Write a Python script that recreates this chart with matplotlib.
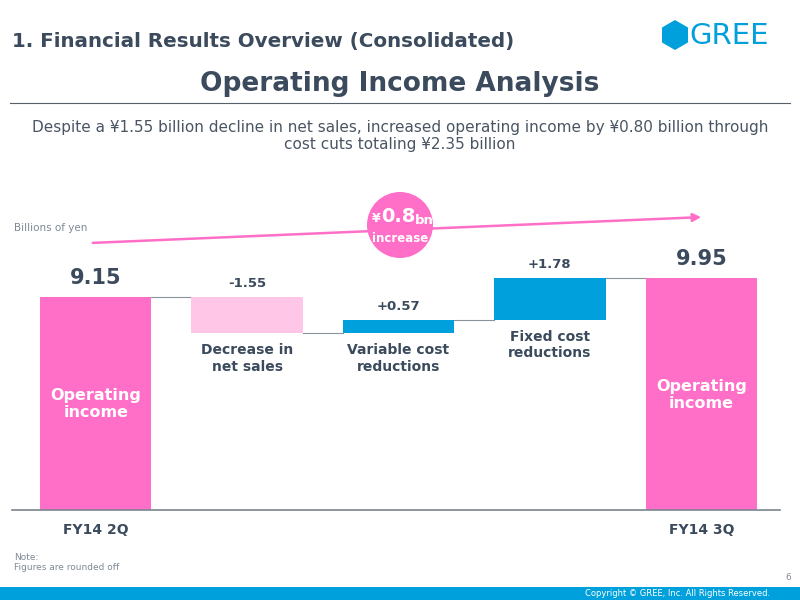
import matplotlib.pyplot as plt
import numpy as np
from matplotlib.patches import Circle, RegularPolygon

# waterfall data (billions of yen)
STEPS = ["FY14 2Q", "Decrease in\nnet sales", "Variable cost\nreductions", "Fixed cost\nreductions", "FY14 3Q"]
START = 9.15
CHANGES = [-1.55, 0.57, 1.78]
END = 9.95
CHANGE_LABELS = ["-1.55", "+0.57", "+1.78"]

PINK = "#ff6fc8"
LIGHT_PINK = "#ffc6e8"
BLUE = "#00a0dc"
TEXT = "#3b4a5c"
GRAY = "#7f8a96"

plt.rcParams["font.family"] = ["DejaVu Sans"]

fig = plt.figure(figsize=(8, 6), dpi=100)
fig.patch.set_facecolor("white")

# ---- header ----
fig.text(12 / 800, 1 - 41 / 600, "1. Financial Results Overview (Consolidated)",
         fontsize=14.3, fontweight="bold", color=TEXT, va="center", ha="left")
fig.text(0.5, 1 - 84 / 600, "Operating Income Analysis",
         fontsize=19, fontweight="bold", color=TEXT, va="center", ha="center")
fig.add_artist(plt.Line2D([10 / 800, 790 / 800], [1 - 103 / 600] * 2, color="#55606c", lw=0.8))
fig.text(0.5, 1 - 136 / 600,
         "Despite a ¥1.55 billion decline in net sales, increased operating income by ¥0.80 billion through\n"
         "cost cuts totaling ¥2.35 billion",
         fontsize=11, color="#4a5563", va="center", ha="center", linespacing=1.2)

# ---- chart ----
ax = fig.add_axes([20 / 800, 1 - 510 / 600, 757 / 800, 340 / 600])
ax.set_xlim(-0.5, 4.5)
ax.set_ylim(0, 14.6)
ax.axis("off")

x = np.arange(len(STEPS))
width = 0.735
levels = START + np.cumsum([0] + CHANGES)
bottoms = [0]
heights = [START]
colors = [PINK]
for i, c in enumerate(CHANGES):
    bottoms.append(min(levels[i], levels[i + 1]))
    heights.append(abs(c))
    colors.append(LIGHT_PINK if c < 0 else BLUE)
bottoms.append(0)
heights.append(END)
colors.append(PINK)

ax.bar(x, heights, width=width, bottom=bottoms, color=colors, edgecolor="none", zorder=2)

# connectors
tops = [START] + list(levels[1:]) + [END]
for i in range(len(STEPS) - 1):
    ax.plot([x[i] + width / 2, x[i + 1] - width / 2], [tops[i], tops[i]],
            color="#8a939c", lw=0.8, zorder=1)

# baseline
ax.plot([-0.55, 4.52], [0, 0], color="#7a8490", lw=1.2, clip_on=False)

# value labels
ax.text(x[0], START + 0.4, f"{START:.2f}", ha="center", va="bottom",
        fontsize=15, fontweight="bold", color=TEXT)
ax.text(x[4], END + 0.4, f"{END:.2f}", ha="center", va="bottom",
        fontsize=15, fontweight="bold", color=TEXT)
for i, lab in enumerate(CHANGE_LABELS):
    top = bottoms[i + 1] + heights[i + 1]
    ax.text(x[i + 1], top + 0.3, lab, ha="center", va="bottom",
            fontsize=9.5, fontweight="bold", color=TEXT)
    ax.text(x[i + 1], bottoms[i + 1] - 0.45, STEPS[i + 1], ha="center", va="top",
            fontsize=10, fontweight="bold", color=TEXT, linespacing=1.2)

ax.text(x[0], 4.55, "Operating\nincome", ha="center", va="center", fontsize=11.5,
        fontweight="bold", color="white", linespacing=1.2)
ax.text(x[4], 4.95, "Operating\nincome", ha="center", va="center", fontsize=11.5,
        fontweight="bold", color="white", linespacing=1.2)

for i in (0, 4):
    ax.text(x[i], -0.55, STEPS[i], ha="center", va="top", fontsize=10,
            fontweight="bold", color=TEXT)

# overlay in pixel coordinates for slide decorations
ax_ov = fig.add_axes([0, 0, 1, 1], facecolor="none")
ax_ov.set_xlim(0, 800)
ax_ov.set_ylim(600, 0)
ax_ov.axis("off")

# GREE logo
ax_ov.add_patch(RegularPolygon((675, 35), numVertices=6, radius=15, orientation=0,
                               facecolor=BLUE, edgecolor="none"))
ax_ov.text(689, 36, "GREE", fontsize=21, color=BLUE, va="center", ha="left")

ax_ov.text(14, 228, "Billions of yen", fontsize=7.5, color=GRAY, va="center")

# trend arrow and badge
ax_ov.annotate("", xy=(704, 217), xytext=(90, 243),
               arrowprops=dict(arrowstyle="-|>", color=PINK, lw=1.8,
                               mutation_scale=12))
ax_ov.add_patch(Circle((400, 225), 33, facecolor=PINK, edgecolor="none", zorder=3))
ax_ov.text(376, 219, "¥", fontsize=9, fontweight="bold", color="white", ha="center",
           va="center", zorder=4)
ax_ov.text(398, 217, "0.8", fontsize=14, fontweight="bold", color="white", ha="center",
           va="center", zorder=4)
ax_ov.text(424, 220, "bn", fontsize=9.5, fontweight="bold", color="white", ha="center",
           va="center", zorder=4)
ax_ov.text(400, 238, "increase", fontsize=8.5, fontweight="bold", color="white",
           ha="center", va="center", zorder=4)

# footer
ax_ov.text(14, 557, "Note:", fontsize=6.5, color=GRAY, va="center")
ax_ov.text(14, 568, "Figures are rounded off", fontsize=6.5, color=GRAY, va="center")
ax_ov.text(791, 578, "6", fontsize=6.5, color=GRAY, va="center", ha="right")
ax_ov.add_patch(plt.Rectangle((0, 587), 800, 13, facecolor=BLUE, edgecolor="none"))
ax_ov.text(770, 593.5, "Copyright © GREE, Inc. All Rights Reserved.", fontsize=6,
           color="white", va="center", ha="right")

fig.savefig("out.png", dpi=100)
